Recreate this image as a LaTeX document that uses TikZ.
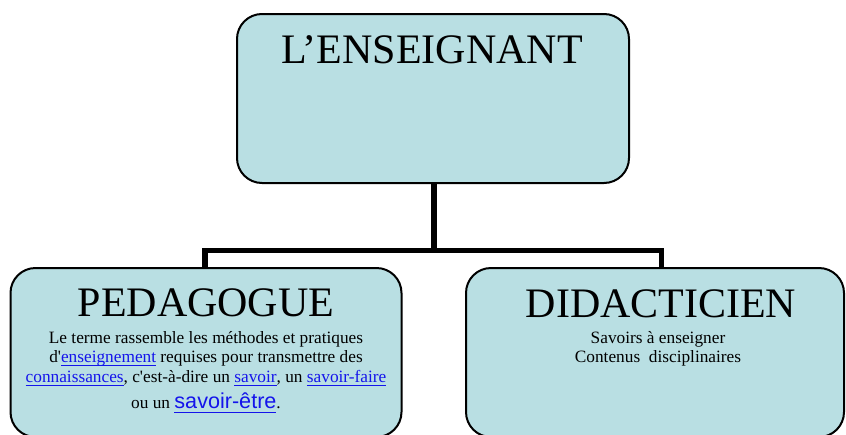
\documentclass[tikz,border=0pt]{standalone}
\usepackage{fontspec}
\setmainfont{Liberation Serif}[Ligatures=TeXOff]
\newfontfamily\arialish{Liberation Sans}
\definecolor{boxfill}{RGB}{185,223,227}
\definecolor{linkblue}{RGB}{20,20,235}
\newcommand{\lnk}[2][3pt]{\textcolor{linkblue}{\setbox0\hbox{#2}\rlap{\rule[-#1]{\wd0}{0.9pt}}\box0}}
\tikzset{
  card/.style={draw=black, line width=2pt, fill=boxfill, rounded corners=25pt, inner sep=0pt},
  title/.style={anchor=base, inner sep=0pt, font=\fontsize{42}{48}\selectfont},
  body/.style={anchor=base, inner sep=0pt, font=\fontsize{17.3}{20}\selectfont},
  conn/.style={draw=black, line width=5.5pt}
}
\begin{document}
\begin{tikzpicture}[x=1pt,y=-1pt]
\clip (0,0) rectangle (846,434);
\fill[white] (0,0) rectangle (846,434);
% boxes
\node[card, minimum width=392pt, minimum height=169pt] (top) at (433,98.5) {};
\node[card, minimum width=391pt, minimum height=169pt] (left) at (206,352.5) {};
\node[card, minimum width=378pt, minimum height=169pt] (right) at (655,352.5) {};
% connectors
\coordinate (j) at (434,250.5);
\coordinate (lj) at (205,250.5);
\coordinate (rj) at (661.5,250.5);
\coordinate (lt) at (205,268);
\coordinate (rt) at (661.5,268);
\draw[conn] (j |- top.south) -- (j);
\draw[conn, line cap=rect] (lj) -- (rj);
\draw[conn] (lj) -- (lt);
\draw[conn] (rj) -- (rt);
% texts
\node[title] (toptitle) at (432,63) {L’ENSEIGNANT};
\node[title] (lefttitle) at (206,316.7) {PEDAGOGUE};
\node[title] (righttitle) at (661,317) {DIDACTICIEN};
\node[body] (l1) at (206,343.3) {Le terme rassemble les méthodes et pratiques};
\node[body] (l2) at (206,362.7) {d'\lnk{enseignement} requises pour transmettre des};
\node[body] (l3) at (206,382.7) {\lnk{connaissances}, c'est-à-dire un \lnk{savoir}, un \lnk{savoir-faire}};
\node[body] (l4) at (206,408.3) {ou un \lnk[4.2pt]{\arialish\fontsize{21.6}{26}\selectfont savoir-être}.};
\node[body] (r1) at (658,343.3) {Savoirs à enseigner};
\node[body] (r2) at (658,362.7) {Contenus\ \ disciplinaires};
\end{tikzpicture}
\end{document}
